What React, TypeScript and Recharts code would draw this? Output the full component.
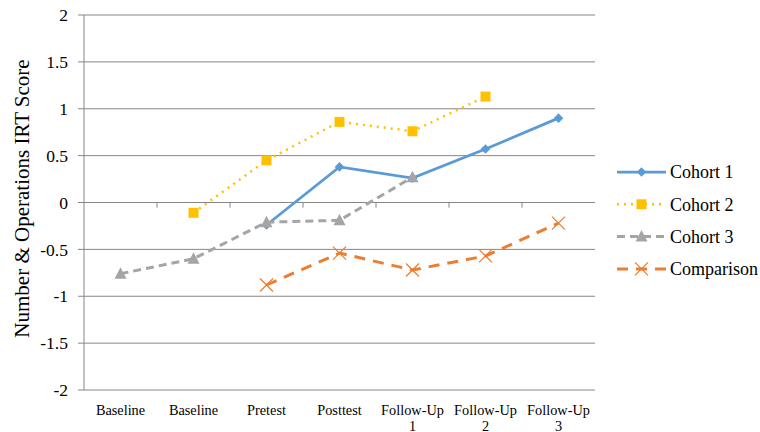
import React from 'react'
import { LineChart, Line, XAxis, YAxis, CartesianGrid, ReferenceLine, Legend } from 'recharts'

const categories = ['Baseline', 'Baseline', 'Pretest', 'Posttest', 'Follow-Up\n1', 'Follow-Up\n2', 'Follow-Up\n3']
const cohort1 = [null, null, -0.24, 0.38, 0.26, 0.57, 0.9]
const cohort2 = [null, -0.11, 0.45, 0.86, 0.76, 1.13, null]
const cohort3 = [-0.76, -0.6, -0.21, -0.19, 0.27, null, null]
const comparison = [null, null, -0.88, -0.54, -0.72, -0.57, -0.22]
const yTicks = [-2, -1.5, -1, -0.5, 0, 0.5, 1, 1.5, 2]
const boundaries = [0.5, 1.5, 2.5, 3.5, 4.5, 5.5]

const FONT = 'Liberation Serif'
const AXIS = '#868686'

const data = categories.map((c, i) => ({
  idx: i,
  cat: c,
  cohort1: cohort1[i],
  cohort2: cohort2[i],
  cohort3: cohort3[i],
  comparison: comparison[i],
}))

const series = [
  { key: 'cohort1', name: 'Cohort 1', color: '#5B9BD5', width: 2.75, dash: undefined, marker: 'diamond' },
  { key: 'cohort2', name: 'Cohort 2', color: '#FFC000', width: 2.5, dash: '2 5', marker: 'square' },
  { key: 'cohort3', name: 'Cohort 3', color: '#A5A5A5', width: 3, dash: '8 5', marker: 'triangle' },
  { key: 'comparison', name: 'Comparison', color: '#ED7D31', width: 3, dash: '11 8', marker: 'x' },
]

function Marker({ type, cx, cy, color }: { type: string; cx: number; cy: number; color: string }) {
  if (type === 'diamond') {
    const r = 4.8
    return <path d={`M${cx},${cy - r}L${cx + r},${cy}L${cx},${cy + r}L${cx - r},${cy}Z`} fill={color} />
  }
  if (type === 'square') {
    const r = 5
    return <rect x={cx - r} y={cy - r} width={r * 2} height={r * 2} fill={color} />
  }
  if (type === 'triangle') {
    return <path d={`M${cx},${cy - 6.5}L${cx + 6},${cy + 5}L${cx - 6},${cy + 5}Z`} fill={color} />
  }
  const r = 6.5
  return (
    <g stroke={color} strokeWidth={1.2}>
      <line x1={cx - r} y1={cy - r} x2={cx + r} y2={cy + r} />
      <line x1={cx - r} y1={cy + r} x2={cx + r} y2={cy - r} />
    </g>
  )
}

const makeDot = (type: string, color: string) => (props: any) => {
  const { cx, cy, value, index } = props
  if (value == null || cx == null || cy == null) return <g key={index} />
  return <Marker key={index} type={type} cx={cx} cy={cy} color={color} />
}

function CategoryTick(props: any) {
  const { x, y, payload } = props
  const lines = String(categories[payload.value] ?? '').split('\n')
  return (
    <text x={x} y={y} textAnchor="middle" fontFamily={FONT} fontSize={14.3} fill="#000">
      {lines.map((l, i) => (
        <tspan key={i} x={x} dy={i === 0 ? 17 : 15.5}>{l}</tspan>
      ))}
    </text>
  )
}

function renderLegend() {
  return (
    <svg width={150} height={125} style={{ display: 'block' }}>
      {series.map((s, i) => {
        const y = 11 + i * 32.3
        return (
          <g key={s.key}>
            <line x1={5} y1={y} x2={54} y2={y} stroke={s.color} strokeWidth={s.width}
              strokeDasharray={s.dash} />
            <Marker type={s.marker} cx={29.5} cy={y} color={s.color} />
            <text x={58} y={y + 6.3} fontFamily={FONT} fontSize={18} fill="#000">{s.name}</text>
          </g>
        )
      })}
    </svg>
  )
}

export default function App() {
  return (
    <div style={{ position: 'absolute', left: 0, top: 0, width: 760, height: 432, background: '#fff', fontFamily: FONT }}>
      <LineChart width={760} height={432} data={data}
        margin={{ top: 15, right: 165, bottom: 12, left: 0 }}>
        <CartesianGrid horizontal vertical={false} stroke={AXIS} strokeWidth={1} />
        <XAxis dataKey="idx" type="number" domain={[-0.5, 6.5]} ticks={[0, 1, 2, 3, 4, 5, 6]} height={30}
          axisLine={false} tickLine={false} tick={<CategoryTick />} interval={0} />
        <YAxis type="number" domain={[-2, 2]} ticks={yTicks} width={84}
          axisLine={{ stroke: AXIS }} tickLine={{ stroke: AXIS }} tickSize={6} tickMargin={10}
          tick={{ fontFamily: FONT, fontSize: 17.5, fill: '#000' }}
          tickFormatter={(v: number) => String(v)}
          label={{
            content: (p: any) => {
              const vb = p.viewBox
              const cy = vb.y + vb.height / 2 - 4
              return (
                <text x={29} y={cy} transform={`rotate(-90 29 ${cy})`} textAnchor="middle"
                  fontFamily={FONT} fontSize={21} fill="#000">
                  Number &amp; Operations IRT Score
                </text>
              )
            },
          }} />
        <ReferenceLine y={0} stroke={AXIS} />
        {boundaries.map((b) => (
          <ReferenceLine key={b} segment={[{ x: b, y: 0 }, { x: b, y: -0.055 }]} stroke={AXIS} />
        ))}
        {series.map((s) => (
          <Line key={s.key} dataKey={s.key} name={s.name} stroke={s.color} strokeWidth={s.width}
            strokeDasharray={s.dash} isAnimationActive={false} connectNulls={false}
            dot={makeDot(s.marker, s.color)} activeDot={false} />
        ))}
        <Legend layout="horizontal" verticalAlign="middle" content={renderLegend}
          wrapperStyle={{ left: 612, top: 161, width: 150, right: 'auto', bottom: 'auto' }} />
      </LineChart>
    </div>
  )
}
